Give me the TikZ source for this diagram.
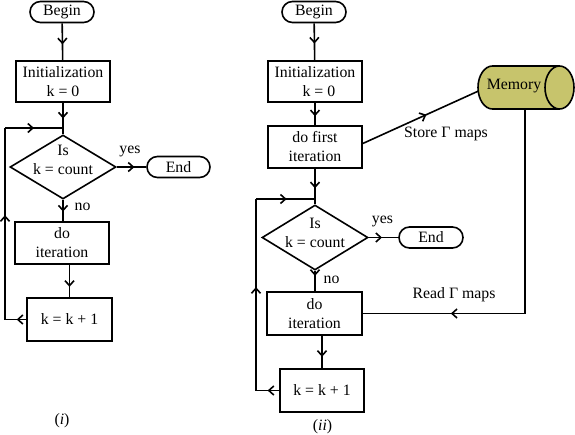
\documentclass[tikz,border=0pt]{standalone}
\usepackage{fontspec}
\setmainfont{Liberation Serif}
\usetikzlibrary{arrows.meta,decorations.markings,shapes.geometric,calc}
\definecolor{memfill}{RGB}{199,196,108}
\begin{document}
\begin{tikzpicture}[x=1pt,y=-1pt,
  font=\fontsize{15.8}{19}\selectfont,
  line width=1.6pt,
  box/.style={draw,line width=1.6pt,inner sep=0pt,align=center},
  term/.style={draw,line width=1.6pt,inner sep=0pt,rounded corners=10.5pt,minimum height=21pt},
  dec/.style={draw,line width=1.6pt,diamond,inner sep=0pt,aspect=1.65},
  txt/.style={inner sep=0pt,align=center},
  midarrow/.style={postaction={decorate,decoration={markings,
     mark=at position #1 with {\arrow{Straight Barb[length=5pt,width=9pt]}}}}}
]
\useasboundingbox (0,0) rectangle (575,434);

% ---------- (i) ----------
\node[term,minimum width=64pt] (b1) at (62,12) {Begin};
\node[box,minimum width=94pt,minimum height=41pt] (i1) at (63,81.5) {Initialization\\k = 0};
\node[dec,minimum width=106pt,minimum height=64pt] (d1) at (63,167) {};
\node[txt] (d1t) at (63,159.5) {Is\\k = count};
\node[term,minimum width=63pt] (e1) at (178.5,167) {End};
\node[box,minimum width=94pt,minimum height=42pt] (it1) at (62,243) {do\\iteration};
\node[box,minimum width=85pt,minimum height=43pt] (k1) at (69.5,319.5) {k = k + 1};
\node[txt] (yes1) at (130,151) {yes};
\node[txt] (no1) at (82.5,207) {no};
\node[txt] (cap1) at (62,420.5) {(\textit{i})};

\coordinate (j1) at (63,128);
\coordinate (l1a) at (5,319.5);
\coordinate (l1b) at (5,128);

\draw[midarrow=0.57] (b1) -- (i1);
\draw[midarrow=0.5] (i1) -- (d1);
\draw[midarrow=0.6] (d1) -- (e1);
\draw[midarrow=0.55] (d1) -- (it1.north -| d1);
\draw[midarrow=0.68] (it1.south -| k1.north) -- (k1.north);
\draw[midarrow=0.45] (k1.west) -- (l1a);
\draw[midarrow=0.545] (l1a) -- (l1b);
\draw[midarrow=0.5] (l1b) -- (j1);

% ---------- (ii) ----------
\node[term,minimum width=64pt] (b2) at (314,12) {Begin};
\node[box,minimum width=94pt,minimum height=41pt] (i2) at (315,81.5) {Initialization\\\ \ k = 0};
\node[box,minimum width=94pt,minimum height=42pt] (f2) at (315,147) {do first\\iteration};
\node[dec,minimum width=106pt,minimum height=65pt] (d2) at (315,237.5) {};
\node[txt] (d2t) at (315,232.5) {Is\\k = count};
\node[term,minimum width=64pt] (e2) at (431,237.5) {End};
\node[box,minimum width=95pt,minimum height=43pt] (it2) at (314.5,313.5) {do\\iteration};
\node[box,minimum width=84pt,minimum height=43pt] (k2) at (322,390.5) {k = k + 1};
\node[txt] (yes2) at (382.5,221.7) {yes};
\node[txt] (no2) at (331.5,280) {no};
\node[txt] (cap2) at (322.5,426.7) {(\textit{ii})};
\node[txt] (store) at (446,134.3) {Store Γ maps};
\node[txt] (read) at (454,294.3) {Read Γ maps};

% Memory cylinder
\fill[memfill] (559.5,66) -- (492.5,66) arc[start angle=90,end angle=270,x radius=14.5pt,y radius=21.5pt] -- (559.5,109) arc[start angle=-90,end angle=90,x radius=14.5pt,y radius=21.5pt] -- cycle;
\draw (559.5,66) -- (492.5,66) arc[start angle=90,end angle=270,x radius=14.5pt,y radius=21.5pt] -- (559.5,109);
\draw (559.5,87.5) ellipse[x radius=14.5pt,y radius=21.5pt];
\node[txt] (mem) at (514,86.5) {Memory};
\coordinate (memw) at (478.5,91);
\coordinate (mems) at (525,109);

\coordinate (j2) at (315,199);
\coordinate (l2a) at (256,390.5);
\coordinate (l2b) at (256,199);

\draw[midarrow=0.55] (b2) -- (i2);
\draw[midarrow=0.6] (i2) -- (f2);
\draw[midarrow=0.55] (f2) -- (d2);
\draw[midarrow=0.45] (d2) -- (e2);
\draw[midarrow=0.25] (d2) -- (it2.north -| d2);
\draw[midarrow=0.65] (it2.south -| k2.north) -- (k2.north);
\draw[midarrow=0.5] (k2.west) -- (l2a);
\draw[midarrow=0.54] (l2a) -- (l2b);
\draw[midarrow=0.52] (l2b) -- (j2);
\draw[midarrow=0.55] ($(f2.east)+(0,-3.5)$) -- (memw);
\draw[midarrow=0.76] (mems) |- (it2.east);
\end{tikzpicture}
\end{document}
